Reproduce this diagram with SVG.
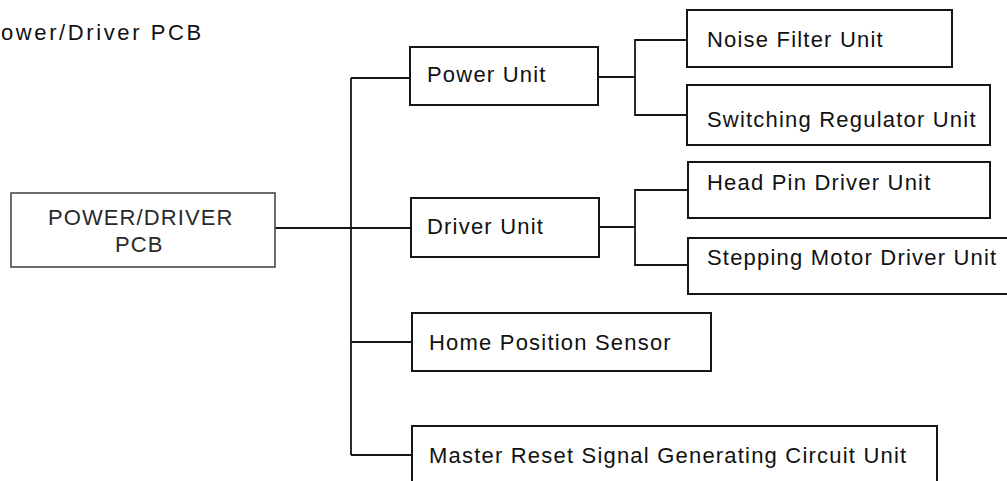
<svg xmlns="http://www.w3.org/2000/svg" width="1007" height="481" viewBox="0 0 1007 481">
  <style>
    .bg { fill: #ffffff; }
    .box { fill: #ffffff; stroke: #161616; stroke-width: 2; }
    .box-light { fill: #ffffff; stroke: #4a4a4a; stroke-width: 1.6; }
    .wire { fill: none; stroke: #161616; stroke-width: 1.8; }
    .label { font-family: "Liberation Sans", Arial, sans-serif; font-size: 22px; letter-spacing: 1.2px; fill: #111111; }
    .label-light { font-family: "Liberation Sans", Arial, sans-serif; font-size: 22px; letter-spacing: 1.1px; fill: #2a2a2a; }
    .title { font-family: "Liberation Sans", Arial, sans-serif; font-size: 22px; letter-spacing: 2.6px; fill: #111111; }
  </style>

  <rect class="bg" x="0" y="0" width="1007" height="481"/>

  <text class="title" x="1" y="40">ower/Driver PCB</text>

  <!-- connectors -->
  <g id="connectors">
    <!-- PCB to main trunk and Driver Unit -->
    <path class="wire" d="M275 228 H411"/>
    <!-- main trunk -->
    <path class="wire" d="M351 78 V455"/>
    <path class="wire" d="M351 78 H410"/>
    <path class="wire" d="M351 342 H412"/>
    <path class="wire" d="M351 455 H412"/>
    <!-- Power Unit branch -->
    <path class="wire" d="M598 77 H635"/>
    <path class="wire" d="M687 40 H635 V115 H687"/>
    <!-- Driver Unit branch -->
    <path class="wire" d="M599 227 H635"/>
    <path class="wire" d="M688 190 H635 V265 H688"/>
  </g>

  <g id="pcb">
    <rect class="box-light" x="11" y="193" width="264" height="74"/>
    <text class="label-light" x="48" y="225">POWER/DRIVER</text>
    <text class="label-light" x="115" y="252">PCB</text>
  </g>

  <g id="power-unit">
    <rect class="box" x="410" y="47" width="188" height="58"/>
    <text class="label" x="427" y="82">Power Unit</text>
  </g>

  <g id="noise-filter-unit">
    <rect class="box" x="687" y="10" width="265" height="57"/>
    <text class="label" x="707" y="47">Noise Filter Unit</text>
  </g>

  <g id="switching-regulator-unit">
    <rect class="box" x="687" y="85" width="303" height="60"/>
    <text class="label" x="707" y="127">Switching Regulator Unit</text>
  </g>

  <g id="driver-unit">
    <rect class="box" x="411" y="198" width="188" height="59"/>
    <text class="label" x="427" y="234">Driver Unit</text>
  </g>

  <g id="head-pin-driver-unit">
    <rect class="box" x="688" y="162" width="302" height="56"/>
    <text class="label" x="707" y="190">Head Pin Driver Unit</text>
  </g>

  <g id="stepping-motor-driver-unit">
    <!-- right edge runs past the sheet border -->
    <rect class="box" x="688" y="238" width="330" height="56"/>
    <text class="label" x="707" y="265">Stepping Motor Driver Unit</text>
  </g>

  <g id="home-position-sensor">
    <rect class="box" x="412" y="313" width="299" height="58"/>
    <text class="label" x="429" y="350">Home Position Sensor</text>
  </g>

  <g id="master-reset-unit">
    <rect class="box" x="412" y="426" width="525" height="70"/>
    <text class="label" x="429" y="463">Master Reset Signal Generating Circuit Unit</text>
  </g>
</svg>
